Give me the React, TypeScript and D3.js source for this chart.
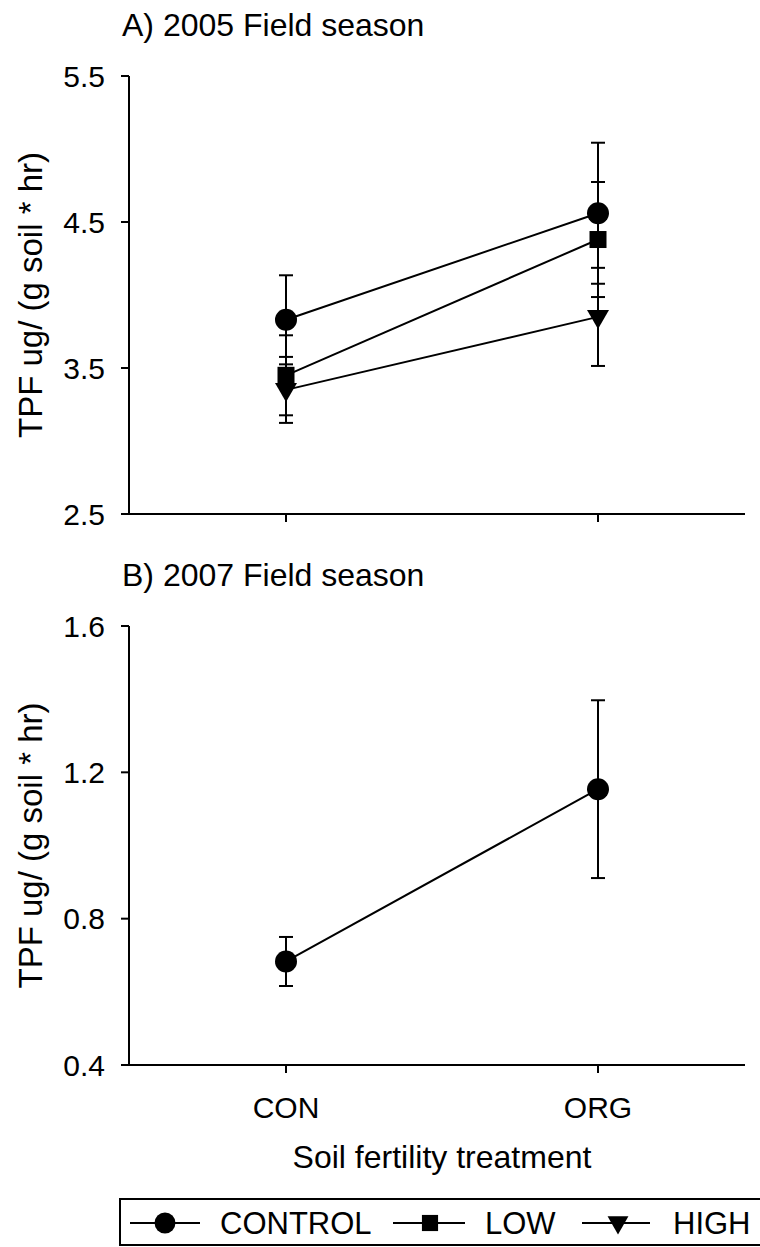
import React, { useEffect, useRef } from "react";
import * as d3 from "d3";

const categories = ["CON", "ORG"];
const seriesNames = ["CONTROL", "LOW", "HIGH"];
const markers = ["circle", "square", "triangle"];

// Panel A (2005)
const a2005Control = [3.83, 4.56];
const a2005ControlErr = [0.305, 0.483];
const a2005Low = [3.45, 4.38];
const a2005LowErr = [0.274, 0.394];
const a2005High = [3.35, 3.85];
const a2005HighErr = [0.226, 0.336];

// Panel B (2007)
const b2007Control = [0.683, 1.154];
const b2007ControlErr = [0.067, 0.243];

const aTicks = [2.5, 3.5, 4.5, 5.5];
const bTicks = [0.4, 0.8, 1.2, 1.6];

const FONT = "'Liberation Sans', Arial, sans-serif";

function drawMarker(g: any, type: string, cx: number, cy: number, s = 1) {
  if (type === "circle") {
    g.append("circle").attr("cx", cx).attr("cy", cy).attr("r", 11 * s).attr("fill", "#000");
  } else if (type === "square") {
    g.append("rect").attr("x", cx - 8.5 * s).attr("y", cy - 8.5 * s).attr("width", 17 * s).attr("height", 17 * s).attr("fill", "#000");
  } else {
    const p = d3.path();
    p.moveTo(cx - 11 * s, cy - 7 * s);
    p.lineTo(cx + 11 * s, cy - 7 * s);
    p.lineTo(cx, cy + 12 * s);
    p.closePath();
    g.append("path").attr("d", p.toString()).attr("fill", "#000");
  }
}

export default function App() {
  const ref = useRef<SVGSVGElement>(null);
  useEffect(() => {
    const svg = d3.select(ref.current);
    svg.selectAll("*").remove();
    const x = d3.scaleLinear().domain([0, 1]).range([286, 598]);
    const xLeft = 129;
    const xRight = 745;

    const panels = [
      {
        title: "A) 2005 Field season",
        titleY: 36,
        domain: [2.5, 5.5],
        range: [514, 76],
        ticks: aTicks,
        fmt: d3.format(".1f"),
        series: [
          { v: a2005Control, e: a2005ControlErr, m: markers[0] },
          { v: a2005Low, e: a2005LowErr, m: markers[1] },
          { v: a2005High, e: a2005HighErr, m: markers[2] },
        ],
        showX: false,
      },
      {
        title: "B) 2007 Field season",
        titleY: 586,
        domain: [0.4, 1.6],
        range: [1065, 626],
        ticks: bTicks,
        fmt: d3.format(".1f"),
        series: [{ v: b2007Control, e: b2007ControlErr, m: markers[0] }],
        showX: true,
      },
    ];

    panels.forEach((p) => {
      const y = d3.scaleLinear().domain(p.domain).range(p.range);
      const g = svg.append("g");
      g.append("text").attr("x", 122).attr("y", p.titleY).attr("font-size", 32).attr("font-family", FONT).text(p.title);

      // axes lines
      g.append("line").attr("x1", xLeft).attr("x2", xLeft).attr("y1", p.range[1]).attr("y2", p.range[0]).attr("stroke", "#000").attr("stroke-width", 2);
      g.append("line").attr("x1", xLeft).attr("x2", xRight).attr("y1", p.range[0]).attr("y2", p.range[0]).attr("stroke", "#000").attr("stroke-width", 2);
      p.ticks.forEach((t) => {
        g.append("line").attr("x1", xLeft - 8).attr("x2", xLeft).attr("y1", y(t)).attr("y2", y(t)).attr("stroke", "#000").attr("stroke-width", 2);
        g.append("text").attr("x", xLeft - 24).attr("y", y(t)).attr("dy", "0.35em").attr("text-anchor", "end").attr("font-size", 30).attr("font-family", FONT).text(p.fmt(t));
      });
      categories.forEach((c, i) => {
        g.append("line").attr("x1", x(i)).attr("x2", x(i)).attr("y1", p.range[0]).attr("y2", p.range[0] + 8).attr("stroke", "#000").attr("stroke-width", 2);
        if (p.showX) {
          g.append("text").attr("x", x(i)).attr("y", p.range[0] + 53).attr("text-anchor", "middle").attr("font-size", 30).attr("font-family", FONT).text(c);
        }
      });
      const cy = (p.range[0] + p.range[1]) / 2;
      g.append("text").attr("transform", `translate(42,${cy}) rotate(-90)`).attr("text-anchor", "middle").attr("font-size", 33).attr("font-family", FONT).text("TPF ug/ (g soil * hr)");

      // lines
      const line = d3.line<number>().x((_, i) => x(i)).y((d) => y(d));
      p.series.forEach((s) => {
        g.append("path").attr("d", line(s.v)).attr("fill", "none").attr("stroke", "#000").attr("stroke-width", 2);
      });
      // error bars
      p.series.forEach((s) => {
        s.v.forEach((v, i) => {
          const e = s.e[i];
          g.append("line").attr("x1", x(i)).attr("x2", x(i)).attr("y1", y(v - e)).attr("y2", y(v + e)).attr("stroke", "#000").attr("stroke-width", 2);
          [v - e, v + e].forEach((yy) => {
            g.append("line").attr("x1", x(i) - 7).attr("x2", x(i) + 7).attr("y1", y(yy)).attr("y2", y(yy)).attr("stroke", "#000").attr("stroke-width", 2);
          });
        });
      });
      p.series.forEach((s) => {
        s.v.forEach((v, i) => drawMarker(g, s.m, x(i), y(v)));
      });
    });

    // x-axis title
    svg.append("text").attr("x", 442).attr("y", 1168).attr("text-anchor", "middle").attr("font-size", 32).attr("font-family", FONT).text("Soil fertility treatment");

    // legend
    const lg = svg.append("g");
    lg.append("rect").attr("x", 120).attr("y", 1199).attr("width", 660).attr("height", 46).attr("fill", "none").attr("stroke", "#000").attr("stroke-width", 2);
    const ly = 1223;
    const items = [
      { lx1: 130, lx2: 200, mx: 165, tx: 220 },
      { lx1: 393, lx2: 465, mx: 430, tx: 485 },
      { lx1: 582, lx2: 650, mx: 618, tx: 673 },
    ];
    items.forEach((it, i) => {
      lg.append("line").attr("x1", it.lx1).attr("x2", it.lx2).attr("y1", ly).attr("y2", ly).attr("stroke", "#000").attr("stroke-width", 2);
      drawMarker(lg, markers[i], it.mx, ly, 0.95);
      lg.append("text").attr("x", it.tx).attr("y", ly).attr("dy", "0.36em").attr("font-size", 31).attr("font-family", FONT).text(seriesNames[i]);
    });
  }, []);
  return (
    <svg ref={ref} width={760} height={1247} style={{ position: "absolute", left: 0, top: 0, background: "#fff" }} />
  );
}
